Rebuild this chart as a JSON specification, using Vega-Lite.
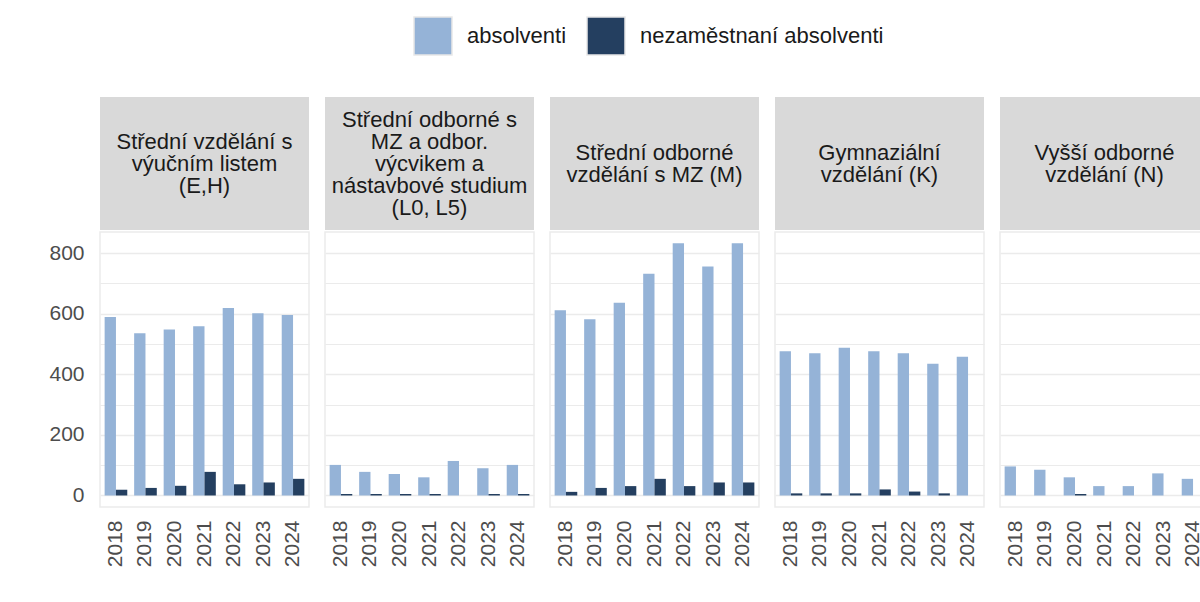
{
  "$schema": "https://vega.github.io/schema/vega-lite/v6.json",
  "padding": {"left": 48, "top": 16, "right": 0, "bottom": 5},
  "background": "white",
  "datasets": {
    "d": [
      {"kat": "A", "rok": 2018, "typ": "absolventi", "pocet": 589},
      {"kat": "A", "rok": 2019, "typ": "absolventi", "pocet": 536},
      {"kat": "A", "rok": 2020, "typ": "absolventi", "pocet": 548},
      {"kat": "A", "rok": 2021, "typ": "absolventi", "pocet": 559},
      {"kat": "A", "rok": 2022, "typ": "absolventi", "pocet": 619},
      {"kat": "A", "rok": 2023, "typ": "absolventi", "pocet": 602},
      {"kat": "A", "rok": 2024, "typ": "absolventi", "pocet": 596},
      {"kat": "A", "rok": 2018, "typ": "nezaměstnaní absolventi", "pocet": 19},
      {"kat": "A", "rok": 2019, "typ": "nezaměstnaní absolventi", "pocet": 25},
      {"kat": "A", "rok": 2020, "typ": "nezaměstnaní absolventi", "pocet": 32},
      {"kat": "A", "rok": 2021, "typ": "nezaměstnaní absolventi", "pocet": 78},
      {"kat": "A", "rok": 2022, "typ": "nezaměstnaní absolventi", "pocet": 37},
      {"kat": "A", "rok": 2023, "typ": "nezaměstnaní absolventi", "pocet": 43},
      {"kat": "A", "rok": 2024, "typ": "nezaměstnaní absolventi", "pocet": 55},
      {"kat": "B", "rok": 2018, "typ": "absolventi", "pocet": 101},
      {"kat": "B", "rok": 2019, "typ": "absolventi", "pocet": 78},
      {"kat": "B", "rok": 2020, "typ": "absolventi", "pocet": 71},
      {"kat": "B", "rok": 2021, "typ": "absolventi", "pocet": 60},
      {"kat": "B", "rok": 2022, "typ": "absolventi", "pocet": 114},
      {"kat": "B", "rok": 2023, "typ": "absolventi", "pocet": 90},
      {"kat": "B", "rok": 2024, "typ": "absolventi", "pocet": 101},
      {"kat": "B", "rok": 2018, "typ": "nezaměstnaní absolventi", "pocet": 5},
      {"kat": "B", "rok": 2019, "typ": "nezaměstnaní absolventi", "pocet": 5},
      {"kat": "B", "rok": 2020, "typ": "nezaměstnaní absolventi", "pocet": 5},
      {"kat": "B", "rok": 2021, "typ": "nezaměstnaní absolventi", "pocet": 5},
      {"kat": "B", "rok": 2022, "typ": "nezaměstnaní absolventi", "pocet": 0},
      {"kat": "B", "rok": 2023, "typ": "nezaměstnaní absolventi", "pocet": 5},
      {"kat": "B", "rok": 2024, "typ": "nezaměstnaní absolventi", "pocet": 5},
      {"kat": "C", "rok": 2018, "typ": "absolventi", "pocet": 612},
      {"kat": "C", "rok": 2019, "typ": "absolventi", "pocet": 582},
      {"kat": "C", "rok": 2020, "typ": "absolventi", "pocet": 636},
      {"kat": "C", "rok": 2021, "typ": "absolventi", "pocet": 732},
      {"kat": "C", "rok": 2022, "typ": "absolventi", "pocet": 833},
      {"kat": "C", "rok": 2023, "typ": "absolventi", "pocet": 756},
      {"kat": "C", "rok": 2024, "typ": "absolventi", "pocet": 833},
      {"kat": "C", "rok": 2018, "typ": "nezaměstnaní absolventi", "pocet": 12},
      {"kat": "C", "rok": 2019, "typ": "nezaměstnaní absolventi", "pocet": 25},
      {"kat": "C", "rok": 2020, "typ": "nezaměstnaní absolventi", "pocet": 31},
      {"kat": "C", "rok": 2021, "typ": "nezaměstnaní absolventi", "pocet": 55},
      {"kat": "C", "rok": 2022, "typ": "nezaměstnaní absolventi", "pocet": 31},
      {"kat": "C", "rok": 2023, "typ": "nezaměstnaní absolventi", "pocet": 43},
      {"kat": "C", "rok": 2024, "typ": "nezaměstnaní absolventi", "pocet": 43},
      {"kat": "D", "rok": 2018, "typ": "absolventi", "pocet": 476},
      {"kat": "D", "rok": 2019, "typ": "absolventi", "pocet": 470},
      {"kat": "D", "rok": 2020, "typ": "absolventi", "pocet": 488},
      {"kat": "D", "rok": 2021, "typ": "absolventi", "pocet": 476},
      {"kat": "D", "rok": 2022, "typ": "absolventi", "pocet": 470},
      {"kat": "D", "rok": 2023, "typ": "absolventi", "pocet": 435},
      {"kat": "D", "rok": 2024, "typ": "absolventi", "pocet": 458},
      {"kat": "D", "rok": 2018, "typ": "nezaměstnaní absolventi", "pocet": 7},
      {"kat": "D", "rok": 2019, "typ": "nezaměstnaní absolventi", "pocet": 7},
      {"kat": "D", "rok": 2020, "typ": "nezaměstnaní absolventi", "pocet": 7},
      {"kat": "D", "rok": 2021, "typ": "nezaměstnaní absolventi", "pocet": 20},
      {"kat": "D", "rok": 2022, "typ": "nezaměstnaní absolventi", "pocet": 13},
      {"kat": "D", "rok": 2023, "typ": "nezaměstnaní absolventi", "pocet": 7},
      {"kat": "D", "rok": 2024, "typ": "nezaměstnaní absolventi", "pocet": 0},
      {"kat": "E", "rok": 2018, "typ": "absolventi", "pocet": 96},
      {"kat": "E", "rok": 2019, "typ": "absolventi", "pocet": 85},
      {"kat": "E", "rok": 2020, "typ": "absolventi", "pocet": 60},
      {"kat": "E", "rok": 2021, "typ": "absolventi", "pocet": 31},
      {"kat": "E", "rok": 2022, "typ": "absolventi", "pocet": 31},
      {"kat": "E", "rok": 2023, "typ": "absolventi", "pocet": 73},
      {"kat": "E", "rok": 2024, "typ": "absolventi", "pocet": 55},
      {"kat": "E", "rok": 2018, "typ": "nezaměstnaní absolventi", "pocet": 0},
      {"kat": "E", "rok": 2019, "typ": "nezaměstnaní absolventi", "pocet": 0},
      {"kat": "E", "rok": 2020, "typ": "nezaměstnaní absolventi", "pocet": 5},
      {"kat": "E", "rok": 2021, "typ": "nezaměstnaní absolventi", "pocet": 0},
      {"kat": "E", "rok": 2022, "typ": "nezaměstnaní absolventi", "pocet": 0},
      {"kat": "E", "rok": 2023, "typ": "nezaměstnaní absolventi", "pocet": 0},
      {"kat": "E", "rok": 2024, "typ": "nezaměstnaní absolventi", "pocet": 0}
    ],
    "h": [
      {"kat": "A", "nazev": "Střední vzdělání s\nvýučním listem\n(E,H)"},
      {"kat": "B", "nazev": "Střední odborné s\nMZ a odbor.\nvýcvikem a\nnástavbové studium\n(L0, L5)"},
      {"kat": "C", "nazev": "Střední odborné\nvzdělání s MZ (M)"},
      {"kat": "D", "nazev": "Gymnaziální\nvzdělání (K)"},
      {"kat": "E", "nazev": "Vyšší odborné\nvzdělání (N)"}
    ]
  },
  "data": {"name": "d"},
  "spacing": 14,
  "hconcat": [
    {
      "spacing": 2, "bounds": "flush",
      "vconcat": [
        {"data": {"name": "h"}, "transform": [{"filter": "datum.kat == 'A'"}], "width": 209, "height": 133, "view": {"fill": "#d9d9d9", "stroke": null},
         "mark": {"type": "text", "lineBreak": "\n", "fontSize": 22, "lineHeight": 22, "font": "Liberation Sans", "color": "#1a1a1a", "baseline": "middle", "align": "center", "dy": -22},
         "encoding": {"text": {"field": "nazev", "type": "nominal"}}},
        {"transform": [{"filter": "datum.kat == 'A'"}], "width": 209, "height": 275, "mark": {"type": "bar"},
         "encoding": {
           "x": {"field": "rok", "type": "ordinal", "scale": {"paddingInner": 0.233, "paddingOuter": 0.157}, "axis": {"title": null, "labelAngle": 270, "ticks": false, "domain": false, "labelPadding": 13, "labelFontSize": 21, "labelColor": "#4d4d4d", "labelFont": "Liberation Sans"}},
           "xOffset": {"field": "typ", "type": "nominal", "sort": ["absolventi", "nezaměstnaní absolventi"], "scale": {"paddingInner": 0, "paddingOuter": 0}},
           "y": {"field": "pocet", "type": "quantitative", "scale": {"domain": [-38, 870], "nice": false, "zero": false}, "axis": {"title": null, "values": [0, 100, 200, 300, 400, 500, 600, 700, 800], "labelExpr": "datum.value % 200 === 0 ? datum.label : ''", "ticks": false, "domain": false, "labelPadding": 16, "labelFontSize": 21, "labelColor": "#4d4d4d", "labelFont": "Liberation Sans", "gridColor": "#ebebeb", "gridWidth": {"condition": {"test": "datum.value % 200 === 0", "value": 1.6}, "value": 1}}},
           "color": {"field": "typ", "type": "nominal", "scale": {"domain": ["absolventi", "nezaměstnaní absolventi"], "range": ["#95b3d7", "#243f60"]}, "legend": {"orient": "none", "legendX": 313, "legendY": -81, "direction": "horizontal", "title": null}}
         }}
      ]
    },
    {
      "spacing": 2, "bounds": "flush",
      "vconcat": [
        {"data": {"name": "h"}, "transform": [{"filter": "datum.kat == 'B'"}], "width": 209, "height": 133, "view": {"fill": "#d9d9d9", "stroke": null},
         "mark": {"type": "text", "lineBreak": "\n", "fontSize": 22, "lineHeight": 22, "font": "Liberation Sans", "color": "#1a1a1a", "baseline": "middle", "align": "center", "dy": -44},
         "encoding": {"text": {"field": "nazev", "type": "nominal"}}},
        {"transform": [{"filter": "datum.kat == 'B'"}], "width": 209, "height": 275, "mark": {"type": "bar"},
         "encoding": {
           "x": {"field": "rok", "type": "ordinal", "scale": {"paddingInner": 0.233, "paddingOuter": 0.157}, "axis": {"title": null, "labelAngle": 270, "ticks": false, "domain": false, "labelPadding": 13, "labelFontSize": 21, "labelColor": "#4d4d4d", "labelFont": "Liberation Sans"}},
           "xOffset": {"field": "typ", "type": "nominal", "sort": ["absolventi", "nezaměstnaní absolventi"], "scale": {"paddingInner": 0, "paddingOuter": 0}},
           "y": {"field": "pocet", "type": "quantitative", "scale": {"domain": [-38, 870], "nice": false, "zero": false}, "axis": {"title": null, "values": [0, 100, 200, 300, 400, 500, 600, 700, 800], "labels": false, "ticks": false, "domain": false, "gridColor": "#ebebeb", "gridWidth": {"condition": {"test": "datum.value % 200 === 0", "value": 1.6}, "value": 1}}},
           "color": {"field": "typ", "type": "nominal", "scale": {"domain": ["absolventi", "nezaměstnaní absolventi"], "range": ["#95b3d7", "#243f60"]}, "legend": {"orient": "none", "legendX": 313, "legendY": -81, "direction": "horizontal", "title": null}}
         }}
      ]
    },
    {
      "spacing": 2, "bounds": "flush",
      "vconcat": [
        {"data": {"name": "h"}, "transform": [{"filter": "datum.kat == 'C'"}], "width": 209, "height": 133, "view": {"fill": "#d9d9d9", "stroke": null},
         "mark": {"type": "text", "lineBreak": "\n", "fontSize": 22, "lineHeight": 22, "font": "Liberation Sans", "color": "#1a1a1a", "baseline": "middle", "align": "center", "dy": -11},
         "encoding": {"text": {"field": "nazev", "type": "nominal"}}},
        {"transform": [{"filter": "datum.kat == 'C'"}], "width": 209, "height": 275, "mark": {"type": "bar"},
         "encoding": {
           "x": {"field": "rok", "type": "ordinal", "scale": {"paddingInner": 0.233, "paddingOuter": 0.157}, "axis": {"title": null, "labelAngle": 270, "ticks": false, "domain": false, "labelPadding": 13, "labelFontSize": 21, "labelColor": "#4d4d4d", "labelFont": "Liberation Sans"}},
           "xOffset": {"field": "typ", "type": "nominal", "sort": ["absolventi", "nezaměstnaní absolventi"], "scale": {"paddingInner": 0, "paddingOuter": 0}},
           "y": {"field": "pocet", "type": "quantitative", "scale": {"domain": [-38, 870], "nice": false, "zero": false}, "axis": {"title": null, "values": [0, 100, 200, 300, 400, 500, 600, 700, 800], "labels": false, "ticks": false, "domain": false, "gridColor": "#ebebeb", "gridWidth": {"condition": {"test": "datum.value % 200 === 0", "value": 1.6}, "value": 1}}},
           "color": {"field": "typ", "type": "nominal", "scale": {"domain": ["absolventi", "nezaměstnaní absolventi"], "range": ["#95b3d7", "#243f60"]}, "legend": {"orient": "none", "legendX": 313, "legendY": -81, "direction": "horizontal", "title": null}}
         }}
      ]
    },
    {
      "spacing": 2, "bounds": "flush",
      "vconcat": [
        {"data": {"name": "h"}, "transform": [{"filter": "datum.kat == 'D'"}], "width": 209, "height": 133, "view": {"fill": "#d9d9d9", "stroke": null},
         "mark": {"type": "text", "lineBreak": "\n", "fontSize": 22, "lineHeight": 22, "font": "Liberation Sans", "color": "#1a1a1a", "baseline": "middle", "align": "center", "dy": -11},
         "encoding": {"text": {"field": "nazev", "type": "nominal"}}},
        {"transform": [{"filter": "datum.kat == 'D'"}], "width": 209, "height": 275, "mark": {"type": "bar"},
         "encoding": {
           "x": {"field": "rok", "type": "ordinal", "scale": {"paddingInner": 0.233, "paddingOuter": 0.157}, "axis": {"title": null, "labelAngle": 270, "ticks": false, "domain": false, "labelPadding": 13, "labelFontSize": 21, "labelColor": "#4d4d4d", "labelFont": "Liberation Sans"}},
           "xOffset": {"field": "typ", "type": "nominal", "sort": ["absolventi", "nezaměstnaní absolventi"], "scale": {"paddingInner": 0, "paddingOuter": 0}},
           "y": {"field": "pocet", "type": "quantitative", "scale": {"domain": [-38, 870], "nice": false, "zero": false}, "axis": {"title": null, "values": [0, 100, 200, 300, 400, 500, 600, 700, 800], "labels": false, "ticks": false, "domain": false, "gridColor": "#ebebeb", "gridWidth": {"condition": {"test": "datum.value % 200 === 0", "value": 1.6}, "value": 1}}},
           "color": {"field": "typ", "type": "nominal", "scale": {"domain": ["absolventi", "nezaměstnaní absolventi"], "range": ["#95b3d7", "#243f60"]}, "legend": {"orient": "none", "legendX": 313, "legendY": -81, "direction": "horizontal", "title": null}}
         }}
      ]
    },
    {
      "spacing": 2, "bounds": "flush",
      "vconcat": [
        {"data": {"name": "h"}, "transform": [{"filter": "datum.kat == 'E'"}], "width": 209, "height": 133, "view": {"fill": "#d9d9d9", "stroke": null},
         "mark": {"type": "text", "lineBreak": "\n", "fontSize": 22, "lineHeight": 22, "font": "Liberation Sans", "color": "#1a1a1a", "baseline": "middle", "align": "center", "dy": -11},
         "encoding": {"text": {"field": "nazev", "type": "nominal"}}},
        {"transform": [{"filter": "datum.kat == 'E'"}], "width": 209, "height": 275, "mark": {"type": "bar"},
         "encoding": {
           "x": {"field": "rok", "type": "ordinal", "scale": {"paddingInner": 0.233, "paddingOuter": 0.157}, "axis": {"title": null, "labelAngle": 270, "ticks": false, "domain": false, "labelPadding": 13, "labelFontSize": 21, "labelColor": "#4d4d4d", "labelFont": "Liberation Sans"}},
           "xOffset": {"field": "typ", "type": "nominal", "sort": ["absolventi", "nezaměstnaní absolventi"], "scale": {"paddingInner": 0, "paddingOuter": 0}},
           "y": {"field": "pocet", "type": "quantitative", "scale": {"domain": [-38, 870], "nice": false, "zero": false}, "axis": {"title": null, "values": [0, 100, 200, 300, 400, 500, 600, 700, 800], "labels": false, "ticks": false, "domain": false, "gridColor": "#ebebeb", "gridWidth": {"condition": {"test": "datum.value % 200 === 0", "value": 1.6}, "value": 1}}},
           "color": {"field": "typ", "type": "nominal", "scale": {"domain": ["absolventi", "nezaměstnaní absolventi"], "range": ["#95b3d7", "#243f60"]}, "legend": {"orient": "none", "legendX": 313, "legendY": -81, "direction": "horizontal", "title": null}}
         }}
      ]
    }
  ],
  "config": {
    "font": "Liberation Sans",
    "view": {"stroke": "#ebebeb", "strokeWidth": 1.5},
    "legend": {"symbolType": "square", "symbolSize": 1444, "symbolStrokeColor": "#e8e8e8", "symbolStrokeWidth": 1.5, "labelFontSize": 22, "labelFont": "Liberation Sans", "labelColor": "#1a1a1a", "labelOffset": 14, "columnPadding": 17, "padding": 0, "labelLimit": 500}
  }
}
